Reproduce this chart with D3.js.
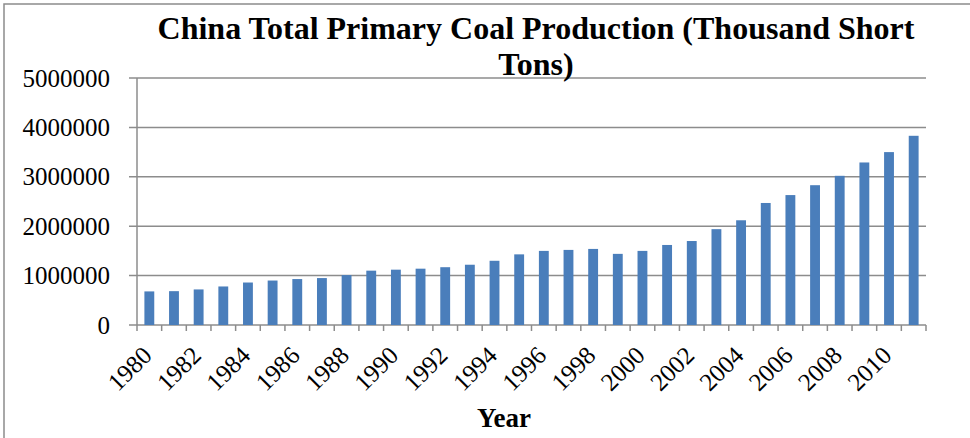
<!DOCTYPE html>
<html>
<head>
<meta charset="utf-8">
<script src="https://cdn.jsdelivr.net/npm/d3@7"></script>
<style>
  body { margin: 0; background: #fff; }
  text { font-family: "Liberation Serif", "Times New Roman", serif; fill: #000; }
</style>
</head>
<body>
<div class="chartDiv"></div>
<script>
// China coal production, thousand short tons
let years = d3.range(1980, 2012);
let production = [
  680000, 685000, 720000, 780000, 860000, 900000, 930000, 950000,
  1010000, 1100000, 1120000, 1140000, 1170000, 1220000, 1300000, 1430000,
  1500000, 1520000, 1540000, 1440000, 1500000, 1620000, 1700000, 1940000,
  2120000, 2470000, 2630000, 2830000, 3020000, 3290000, 3500000, 3830000
];
let yTicks = [0, 1000000, 2000000, 3000000, 4000000, 5000000];

let svgWidth = 970;
let svgHeight = 438;

let margin = { top: 78, bottom: 113, right: 44, left: 137 };
let graphWidth = svgWidth - margin.left - margin.right;
let graphHeight = svgHeight - margin.top - margin.bottom;

let svg = d3.select('.chartDiv')
            .append('svg')
            .attr('width', svgWidth)
            .attr('height', svgHeight);

// outer chart border
svg.append('rect')
   .attr('x', 4).attr('y', 4)
   .attr('width', 980).attr('height', 450)
   .attr('fill', 'none')
   .attr('stroke', '#8c8c8c')
   .attr('stroke-width', 1.5);

let chartGroup = svg.append('g')
                    .attr('transform', `translate(${margin.left}, ${margin.top})`);

let xScale = d3.scaleBand()
               .domain(years)
               .range([0, graphWidth])
               .paddingInner(0.6)
               .paddingOuter(0.3);

let yScale = d3.scaleLinear()
               .domain([0, 5000000])
               .range([graphHeight, 0]);

// gridlines
chartGroup.append('g')
          .selectAll('line')
          .data(yTicks)
          .enter()
          .append('line')
          .attr('x1', -8)
          .attr('x2', graphWidth)
          .attr('y1', d => yScale(d))
          .attr('y2', d => yScale(d))
          .attr('stroke', '#8c8c8c')
          .attr('stroke-width', 1.5);

// y labels
let leftaxis = d3.axisLeft(yScale).tickValues(yTicks).tickFormat(d3.format('d')).tickSize(0).tickPadding(27);
chartGroup.append('g')
          .call(leftaxis)
          .call(g => g.select('.domain').remove())
          .selectAll('text')
          .style('font-size', '25px')
          .style('font-family', '"Liberation Serif", serif');

// bars
chartGroup.selectAll('.bar')
          .data(production)
          .enter()
          .append('rect')
          .attr('class', 'bar')
          .attr('x', (d, i) => xScale(years[i]))
          .attr('width', xScale.bandwidth())
          .attr('y', d => yScale(d))
          .attr('height', d => graphHeight - yScale(d))
          .attr('fill', '#4a7ebb');

// y axis line
chartGroup.append('line')
          .attr('x1', 0).attr('x2', 0)
          .attr('y1', 0).attr('y2', graphHeight)
          .attr('stroke', '#8c8c8c')
          .attr('stroke-width', 1.5);

// x axis ticks at category boundaries
let step = graphWidth / years.length;
chartGroup.append('g')
          .selectAll('line')
          .data(d3.range(years.length + 1))
          .enter()
          .append('line')
          .attr('x1', i => i * step)
          .attr('x2', i => i * step)
          .attr('y1', graphHeight)
          .attr('y2', graphHeight + 6)
          .attr('stroke', '#8c8c8c')
          .attr('stroke-width', 1.5);

// x labels, every other year
chartGroup.append('g')
          .selectAll('text')
          .data(years.filter(y => y % 2 === 0))
          .enter()
          .append('text')
          .attr('transform', d => `translate(${xScale(d) + xScale.bandwidth() / 2 + 4}, ${graphHeight + 32}) rotate(-45)`)
          .attr('text-anchor', 'end')
          .style('font-size', '25px')
          .text(d => d);

// title
svg.append('text')
   .attr('x', 536)
   .attr('y', 39)
   .attr('text-anchor', 'middle')
   .style('font-size', '32px')
   .style('font-weight', 'bold')
   .text('China Total Primary Coal Production (Thousand Short');
svg.append('text')
   .attr('x', 536)
   .attr('y', 75)
   .attr('text-anchor', 'middle')
   .style('font-size', '32px')
   .style('font-weight', 'bold')
   .text('Tons)');

// x axis title
svg.append('text')
   .attr('x', 504)
   .attr('y', 427)
   .attr('text-anchor', 'middle')
   .style('font-size', '27px')
   .style('font-weight', 'bold')
   .text('Year');
</script>
</body>
</html>
